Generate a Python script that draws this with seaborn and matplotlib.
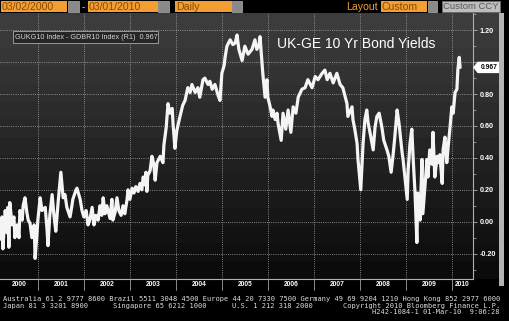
import numpy as np
import matplotlib
matplotlib.use("Agg")
import matplotlib.pyplot as plt
from matplotlib.patches import Rectangle, Polygon
from matplotlib.transforms import blended_transform_factory
import seaborn as sns

# ---------------- data ----------------
dates = [
    2000.19, 2000.21, 2000.23, 2000.28, 2000.32, 2000.34, 2000.36, 2000.38, 2000.43, 2000.47,
    2000.49, 2000.54, 2000.58, 2000.60, 2000.65, 2000.67, 2000.71, 2000.75, 2000.78, 2000.82,
    2000.86, 2000.91, 2000.93, 2000.97, 2000.99, 2001.04, 2001.08, 2001.15, 2001.19, 2001.21,
    2001.25, 2001.30, 2001.34, 2001.38, 2001.43, 2001.49, 2001.54, 2001.58, 2001.62, 2001.69,
    2001.73, 2001.75, 2001.82, 2001.84, 2001.91, 2001.95, 2001.99, 2002.04, 2002.08, 2002.12,
    2002.17, 2002.21, 2002.25, 2002.30, 2002.34, 2002.38, 2002.41, 2002.45, 2002.49, 2002.56,
    2002.60, 2002.62, 2002.67, 2002.71, 2002.75, 2002.80, 2002.84, 2002.88, 2002.93, 2002.95,
    2002.99, 2003.04, 2003.08, 2003.12, 2003.17, 2003.21, 2003.25, 2003.28, 2003.32, 2003.34,
    2003.36, 2003.38, 2003.43, 2003.47, 2003.51, 2003.54, 2003.58, 2003.65, 2003.71, 2003.73,
    2003.78, 2003.82, 2003.86, 2003.91, 2003.93, 2003.97, 2004.01, 2004.08, 2004.14, 2004.19,
    2004.25, 2004.30, 2004.34, 2004.41, 2004.47, 2004.51, 2004.58, 2004.62, 2004.69, 2004.73,
    2004.78, 2004.84, 2004.91, 2004.95, 2004.99, 2005.04, 2005.06, 2005.10, 2005.17, 2005.23,
    2005.28, 2005.32, 2005.36, 2005.43, 2005.49, 2005.56, 2005.645, 2005.71, 2005.75, 2005.80,
    2005.82, 2005.86, 2005.88, 2005.93, 2005.97, 2005.99, 2006.04, 2006.08, 2006.10, 2006.15,
    2006.19, 2006.21, 2006.28, 2006.32, 2006.38, 2006.43, 2006.49, 2006.54, 2006.60, 2006.65,
    2006.73, 2006.80, 2006.86, 2006.95, 2007.02, 2007.08, 2007.17, 2007.23, 2007.28, 2007.34,
    2007.41, 2007.49, 2007.56, 2007.62, 2007.71, 2007.73, 2007.82, 2007.84, 2007.88, 2007.93,
    2007.95, 2008.01, 2008.06, 2008.10, 2008.14, 2008.17, 2008.23, 2008.28, 2008.32, 2008.36,
    2008.41, 2008.47, 2008.51, 2008.58, 2008.62, 2008.67, 2008.71, 2008.75, 2008.80, 2008.84,
    2008.91, 2008.93, 2008.97, 2009.02, 2009.04, 2009.08, 2009.12, 2009.15, 2009.19, 2009.23,
    2009.25, 2009.30, 2009.34, 2009.36, 2009.41, 2009.45, 2009.47, 2009.51, 2009.56, 2009.58,
    2009.62, 2009.67, 2009.69, 2009.73, 2009.78, 2009.80, 2009.84, 2009.88, 2009.91, 2009.95,
    2009.99, 2010.02, 2010.06, 2010.10, 2010.12, 2010.15, 2010.17,
]
spread = [
    -0.11, 0.03, -0.17, 0.07, -0.07, 0.09, -0.16, 0.12, -0.02, 0.03,
    -0.10, -0.02, -0.10, 0.07, 0.01, 0.10, 0.15, 0.06, 0.01, -0.01,
    -0.10, -0.02, -0.23, -0.08, 0.01, 0.15, 0.07, 0.09, -0.05, -0.15,
    0.04, 0.17, 0.04, -0.06, 0.12, 0.31, 0.15, 0.17, 0.09, 0.03,
    0.10, 0.14, 0.20, 0.21, 0.14, 0.07, 0.03, 0.07, -0.02, 0.01,
    0.09, -0.02, 0.04, 0.01, 0.10, 0.04, 0.15, 0.05, 0.10, 0.02,
    0.14, 0.01, 0.06, 0.15, 0.07, 0.04, 0.10, 0.05, 0.14, 0.20,
    0.14, 0.21, 0.18, 0.22, 0.19, 0.24, 0.20, 0.28, 0.23, 0.31,
    0.19, 0.29, 0.32, 0.41, 0.36, 0.26, 0.37, 0.41, 0.37, 0.48,
    0.59, 0.74, 0.68, 0.71, 0.61, 0.46, 0.57, 0.66, 0.73, 0.76,
    0.84, 0.81, 0.86, 0.81, 0.84, 0.78, 0.89, 0.90, 0.86, 0.88,
    0.83, 0.86, 0.79, 0.76, 0.93, 0.98, 1.03, 1.10, 1.14, 1.11,
    1.12, 1.17, 1.08, 1.01, 1.10, 1.05, 1.08, 1.14, 1.08, 1.11,
    1.16, 1.01, 0.93, 0.78, 0.89, 0.78, 0.72, 0.66, 0.70, 0.64,
    0.68, 0.62, 0.51, 0.68, 0.58, 0.70, 0.56, 0.72, 0.68, 0.78,
    0.83, 0.84, 0.89, 0.84, 0.91, 0.89, 0.93, 0.95, 0.89, 0.93,
    0.87, 0.93, 0.86, 0.84, 0.74, 0.66, 0.72, 0.64, 0.58, 0.49,
    0.39, 0.20, 0.49, 0.64, 0.70, 0.62, 0.53, 0.45, 0.59, 0.66,
    0.68, 0.59, 0.51, 0.45, 0.41, 0.31, 0.41, 0.53, 0.70, 0.62,
    0.43, 0.39, 0.28, 0.14, 0.32, 0.49, 0.58, 0.39, 0.18, -0.13,
    0.18, 0.01, 0.39, 0.05, 0.24, 0.39, 0.28, 0.45, 0.36, 0.56,
    0.28, 0.41, 0.37, 0.42, 0.24, 0.45, 0.53, 0.37, 0.47, 0.59,
    0.72, 0.68, 0.81, 0.83, 0.95, 1.03, 0.967,
]
y_ticks = [-0.20, 0.00, 0.20, 0.40, 0.60, 0.80, 1.00, 1.20]
year_labels = ["2000", "2001", "2002", "2003", "2004", "2005",
               "2006", "2007", "2008", "2009", "2010"]
year_bounds = [2001, 2002, 2003, 2004, 2005, 2006, 2007, 2008, 2009, 2010]
last_value = 0.967
title = "UK-GE 10 Yr Bond Yields"
legend_text = "GUKG10 Index - GDBR10 Index (R1)  0.967"
start_label, end_label, freq_label = "03/02/2000", "03/01/2010", "Daily"
footer1 = ("Australia 61 2 9777 8600 Brazil 5511 3048 4500 Europe 44 20 7330 7500 "
           "Germany 49 69 9204 1210 Hong Kong 852 2977 6000")
footer2 = ["Japan 81 3 3201 8900", "Singapore 65 6212 1000", "U.S. 1 212 318 2000",
           "Copyright 2010 Bloomberg Finance L.P."]
footer3 = "H242-1084-1 01-Mar-10  9:06:28"

# ---------------- figure ----------------
W, H = 510, 321
sns.set_theme(style="dark")
plt.rcParams['font.family'] = ['Liberation Sans', 'DejaVu Sans']
fig = plt.figure(figsize=(W / 100, H / 100), dpi=100, facecolor='black')


def fx(px):
    return px / W


def fy(py):
    return 1 - py / H


def rect(x0, y0, x1, y1, **kw):
    fig.add_artist(Rectangle((fx(x0), fy(y1)), fx(x1) - fx(x0), fy(y0) - fy(y1),
                             transform=fig.transFigure, **kw))


XMIN, XMAX = 2000.167, 2010.45
YMIN, YMAX = -0.359, 1.308

# background gradient (plot + right label area)
bg = fig.add_axes([fx(0), fy(279), fx(499), (279 - 13) / H], zorder=-1)
shades = np.linspace(0.045, 0.24, 15)[::-1].reshape(-1, 1)
bg.imshow(shades, cmap='gray', vmin=0, vmax=1, aspect='auto',
          interpolation='nearest', extent=[0, 1, 0, 1])
bg.set_axis_off()

ax = fig.add_axes([fx(0), fy(279), fx(473), (279 - 13) / H])
ax.patch.set_alpha(0)

sns.lineplot(x=dates, y=spread, ax=ax, color='#f4f4f4', linewidth=2.3,
             estimator=None, sort=False, zorder=3)

ax.set_xlim(XMIN, XMAX)
ax.set_ylim(YMIN, YMAX)
ax.set_xlabel("")
ax.set_ylabel("")
ax.set_xticks(year_bounds)
ax.set_xticklabels([])
ax.set_yticks(y_ticks)
ax.set_yticks(np.arange(-0.3, 1.31, 0.1), minor=True)
ax.yaxis.tick_right()
# the 1.00 label sits under the last-value tag, as in the reference
ax.set_yticklabels(["" if abs(v - 1.0) < 1e-9 else f"{v:.2f}" for v in y_ticks],
                   fontsize=5.2, color='white', fontweight='bold')
ax.tick_params(axis='y', which='major', length=3, width=0.6, color='#b0b0b0', pad=2)
ax.tick_params(axis='y', which='minor', length=1.8, width=0.5, color='#b0b0b0')
ax.tick_params(axis='x', length=0)
ax.grid(True, which='major', color='#a8a8a8', linestyle=(0, (1, 1.6)), linewidth=0.6)
for s in ['left', 'top']:
    ax.spines[s].set_visible(False)
for s in ['right', 'bottom']:
    ax.spines[s].set_visible(True)
    ax.spines[s].set_color('#b0b0b0')
    ax.spines[s].set_linewidth(0.8)

# year strip
bt = blended_transform_factory(ax.transData, fig.transFigure)
for yb in year_bounds:
    fig.add_artist(plt.Line2D([yb, yb], [fy(279), fy(290)], transform=bt,
                              color='#a0a0a0', lw=0.6))
centers = [XMIN + (2001 - XMIN) / 2] + [y + 0.5 for y in range(2001, 2010)] + \
          [2010 + (XMAX - 2010) / 2]
for lab, xc in zip(year_labels, centers):
    fig.text(xc, fy(284.5), lab, transform=bt, ha='center', va='center',
             fontsize=4.8, color='white', fontweight='bold')

# value tag on right axis
bt2 = blended_transform_factory(ax.transAxes, ax.transData)
dy = 5.0 / 159.5
r1 = 1.0 + 27 / 473
tip = 1.0 + 1 / 473
shoulder = 1.0 + 5 / 473
ax.add_patch(Polygon([(tip, last_value), (shoulder, last_value + dy), (r1, last_value + dy),
                      (r1, last_value - dy), (shoulder, last_value - dy)],
                     closed=True, transform=bt2, facecolor='white', edgecolor='white',
                     clip_on=False, zorder=10))
ax.text(1.0 + 16 / 473, last_value, f"{last_value:.3f}", transform=bt2, ha='center',
        va='center', fontsize=4.8, color='black', fontweight='bold', zorder=11, clip_on=False)

# legend box & title
rect(13, 31, 158, 43, facecolor='#262626', edgecolor='#9a9a9a', linewidth=0.7)
fig.text(fx(15.5), fy(37.2), legend_text, fontsize=5.2, color='#d4d4d4',
         ha='left', va='center')
fig.text(fx(277), fy(44.5), title, fontsize=10, color='white', ha='left', va='center')

# scrollbar
rect(499, 13, 504, 286, facecolor='#b4b4b4', edgecolor='none')

# header bar
ORANGE = '#f29e33'
HTXT = '#8a4a00'
rect(0.5, 1, 67, 12, facecolor=ORANGE, edgecolor='none')
rect(68, 1, 79, 12, facecolor='#8a8a8a', edgecolor='#b0b0b0', linewidth=0.5)
fig.text(fx(2), fy(6.8), start_label, fontsize=7.6, color=HTXT, ha='left', va='center')
fig.text(fx(83), fy(6.8), "-", fontsize=7, color='#dddddd', ha='center', va='center')
rect(88, 1, 158, 12, facecolor=ORANGE, edgecolor='none')
rect(158, 1, 169, 12, facecolor='#8a8a8a', edgecolor='#b0b0b0', linewidth=0.5)
fig.text(fx(89), fy(6.8), end_label, fontsize=7.6, color=HTXT, ha='left', va='center')
rect(175, 1, 232, 12, facecolor=ORANGE, edgecolor='none')
rect(232, 1, 242, 12, facecolor='#8a8a8a', edgecolor='#b0b0b0', linewidth=0.5)
fig.text(fx(176), fy(6.8), freq_label, fontsize=7.6, color=HTXT, ha='left', va='center')
fig.text(fx(378), fy(6.8), "Layout", fontsize=7.6, color=ORANGE, ha='right', va='center')
rect(381, 1, 427, 12, facecolor=ORANGE, edgecolor='none')
rect(428, 1, 437, 12, facecolor='#8a8a8a', edgecolor='#b0b0b0', linewidth=0.5)
fig.text(fx(382), fy(6.8), "Custom", fontsize=7.6, color=HTXT, ha='left', va='center')
rect(442, 1, 500, 12, facecolor='#bdbdbd', edgecolor='#6a6a6a', linewidth=0.7)
fig.text(fx(471), fy(6.8), "Custom CCY", fontsize=6.8, color='#5a5a5a', ha='center', va='center')

# footer
mono = ['DejaVu Sans Mono']
FC = '#dcdcdc'
fig.text(fx(3), fy(299), footer1, fontsize=5.05, family=mono, color=FC, ha='left', va='center')
for txt, xp in zip(footer2, [3, 113, 232, 343]):
    fig.text(fx(xp), fy(305.8), txt, fontsize=5.05, family=mono, color=FC,
             ha='left', va='center')
fig.text(fx(500), fy(312.3), footer3, fontsize=5.05, family=mono, color=FC,
         ha='right', va='center')

fig.savefig("out.png", dpi=100, facecolor='black')
